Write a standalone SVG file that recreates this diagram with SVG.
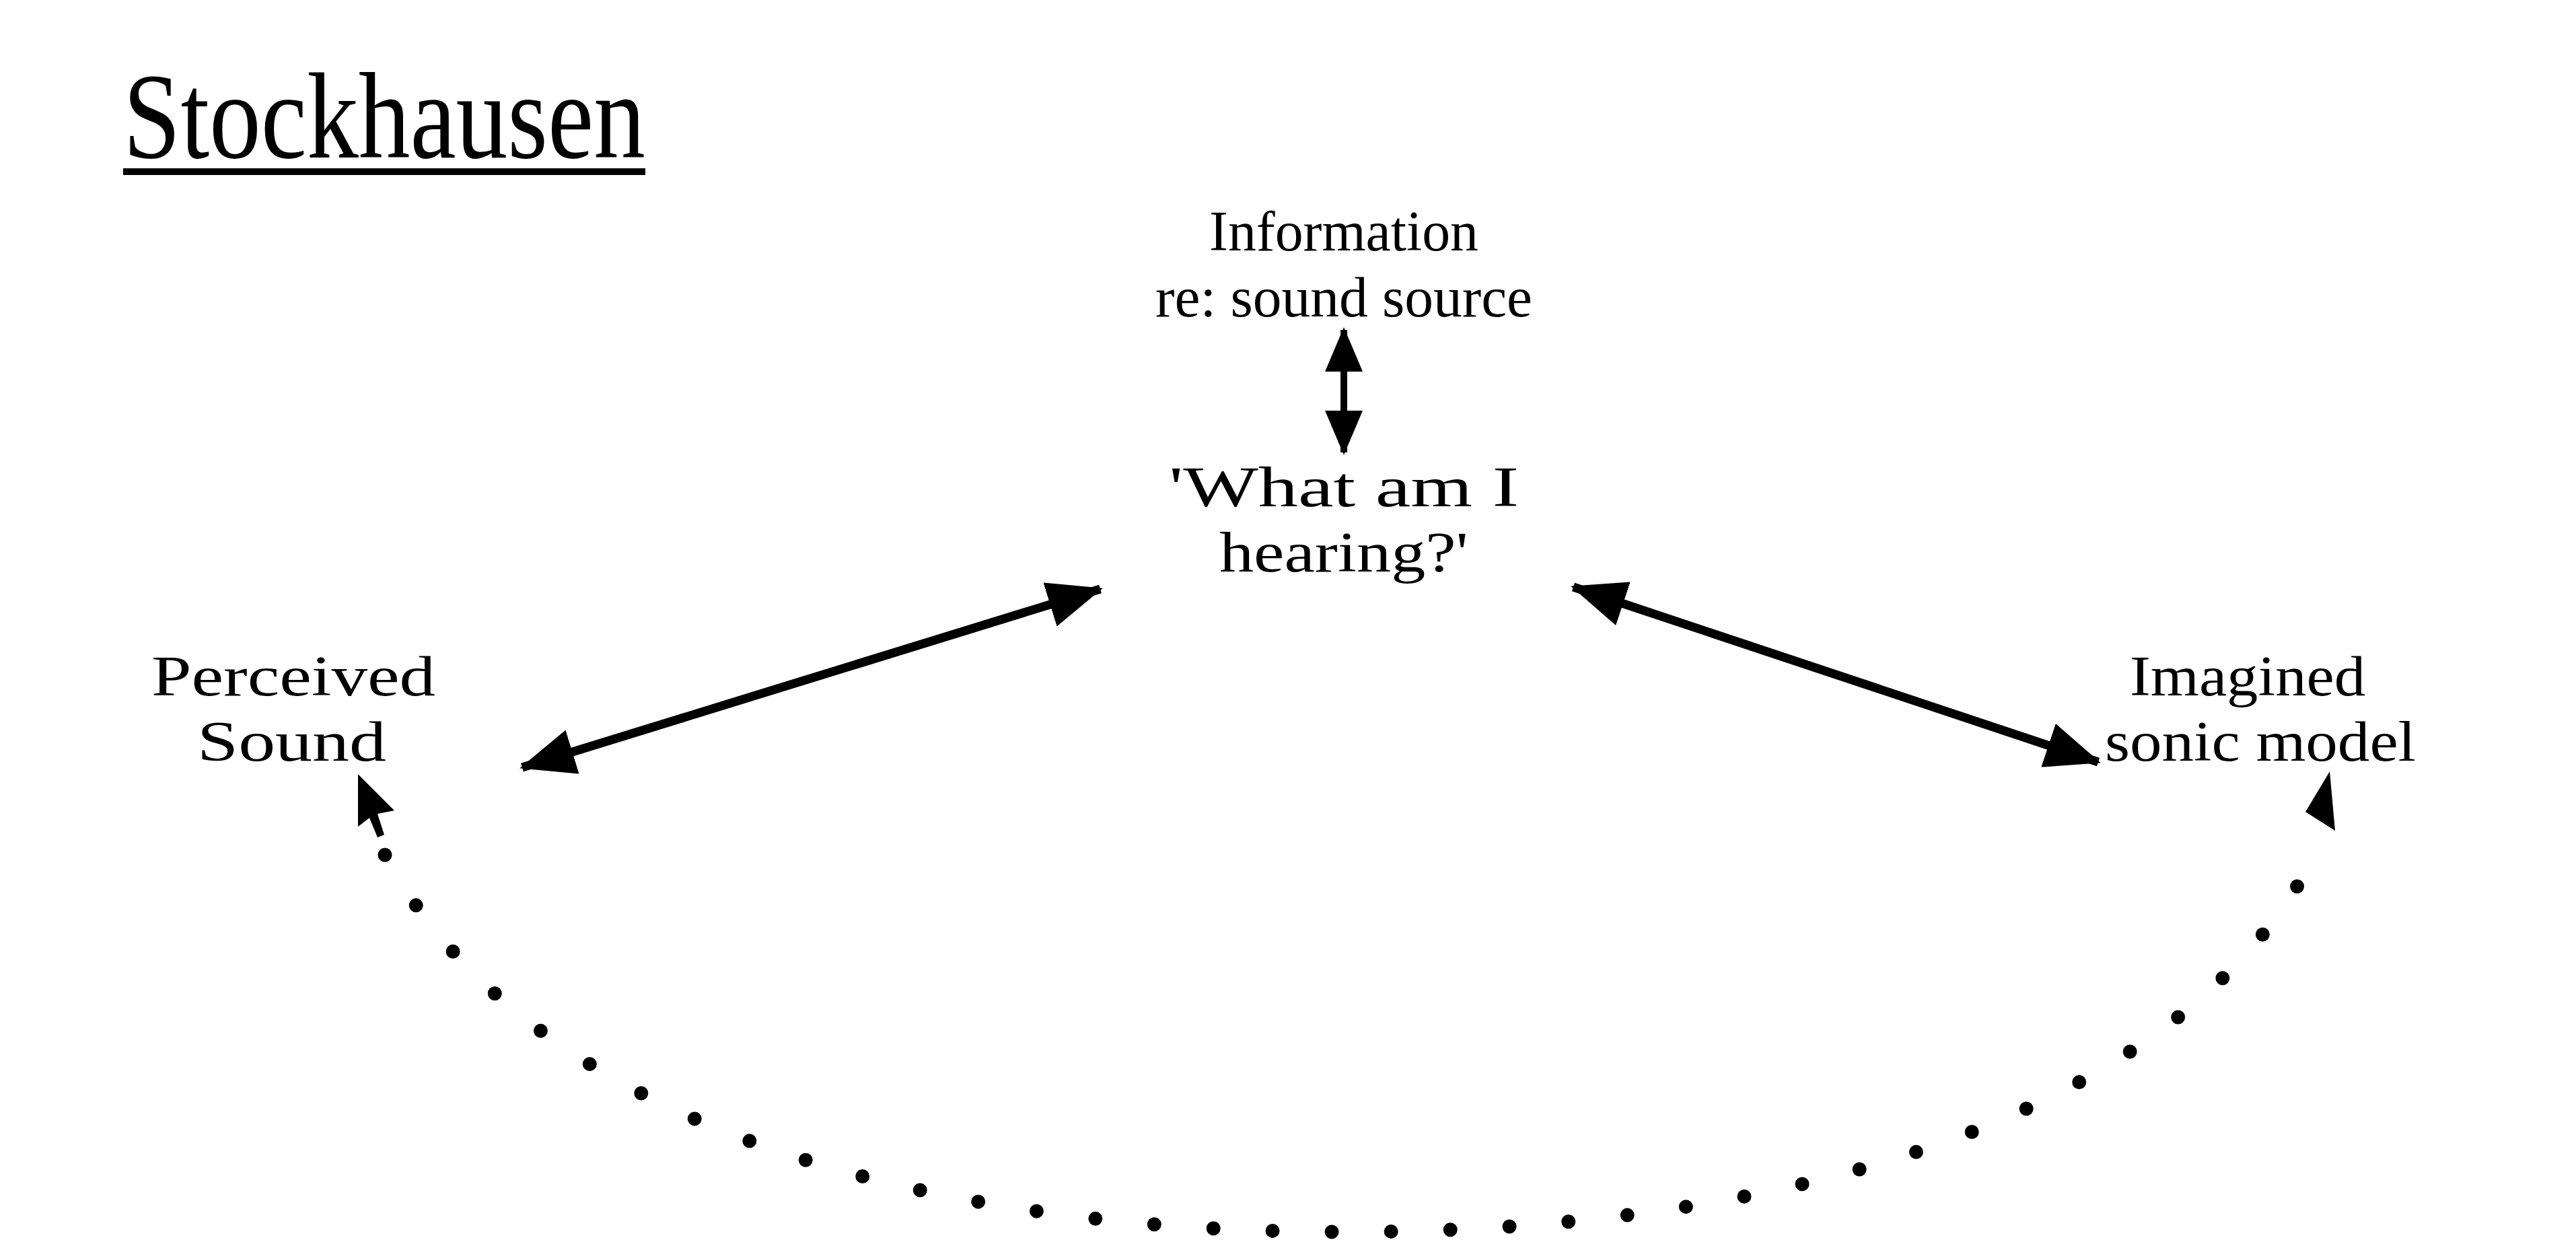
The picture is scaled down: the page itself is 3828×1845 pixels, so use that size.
<svg xmlns="http://www.w3.org/2000/svg" width="3828" height="1845" viewBox="0 0 3828 1845">
<style>
  .lbl { font-family: "Liberation Serif", "Times New Roman", serif; font-size: 84px; fill: #000; }
  .title { font-family: "Liberation Serif", "Times New Roman", serif; font-size: 182px; fill: #000; }
  .solid { stroke: #000; stroke-width: 13; fill: none; }
  .dotted { stroke: #000; stroke-width: 21; fill: none; stroke-linecap: round; stroke-dasharray: 0 88; }
  .head { fill: #000; stroke: none; }
</style>
<defs>
  <marker id="head" markerUnits="userSpaceOnUse" viewBox="0 0 82 68" refX="78" refY="34" markerWidth="82" markerHeight="68" orient="auto-start-reverse">
    <path d="M0,0 L82,34 L0,68 Z" fill="#000"/>
  </marker>
  <marker id="vhead" markerUnits="userSpaceOnUse" viewBox="0 0 66 56" refX="62" refY="28" markerWidth="66" markerHeight="56" orient="auto-start-reverse">
    <path d="M0,0 L66,28 L0,56 Z" fill="#000"/>
  </marker>
</defs>
<rect width="3828" height="1845" fill="#fff"/>

<g id="title">
  <text class="title" x="183" y="234" textLength="776" lengthAdjust="spacingAndGlyphs">Stockhausen</text>
  <rect x="183" y="250" width="776" height="10" fill="#000"/>
</g>

<g id="node-information">
  <text class="lbl" x="1797" y="372" textLength="400" lengthAdjust="spacingAndGlyphs">Information</text>
  <text class="lbl" x="1717" y="470" textLength="560" lengthAdjust="spacingAndGlyphs">re: sound source</text>
</g>

<g id="node-what">
  <text class="lbl" x="1737" y="752" textLength="520" lengthAdjust="spacingAndGlyphs">'What am I</text>
  <text class="lbl" x="1812" y="849" textLength="370" lengthAdjust="spacingAndGlyphs">hearing?'</text>
</g>

<g id="node-perceived">
  <text class="lbl" x="225" y="1033" textLength="422" lengthAdjust="spacingAndGlyphs">Perceived</text>
  <text class="lbl" x="293" y="1130" textLength="281" lengthAdjust="spacingAndGlyphs">Sound</text>
</g>

<g id="node-imagined">
  <text class="lbl" x="3165" y="1033" textLength="350" lengthAdjust="spacingAndGlyphs">Imagined</text>
  <text class="lbl" x="3128" y="1130" textLength="462" lengthAdjust="spacingAndGlyphs">sonic model</text>
</g>

<g id="connectors">
  <line class="solid" x1="1997" y1="490" x2="1997" y2="672" style="stroke-width:10" marker-start="url(#vhead)" marker-end="url(#vhead)"/>
  <line class="solid" x1="1635" y1="875" x2="776" y2="1140" marker-start="url(#head)" marker-end="url(#head)"/>
  <line class="solid" x1="2338" y1="872" x2="3118" y2="1132" marker-start="url(#head)" marker-end="url(#head)"/>
  <path class="dotted" d="M 572 1270 C 770 1640, 1300 1830, 2000 1830 C 2700 1830, 3250 1640, 3440 1270"/>
  <path class="head" d="M532,1150 L532,1228 L549,1215 L561,1244 L571,1240 L561,1209 L586,1204 Z"/>
  <path class="head" d="M3462,1146 L3426,1206 L3470,1234 Z"/>
</g>
</svg>
